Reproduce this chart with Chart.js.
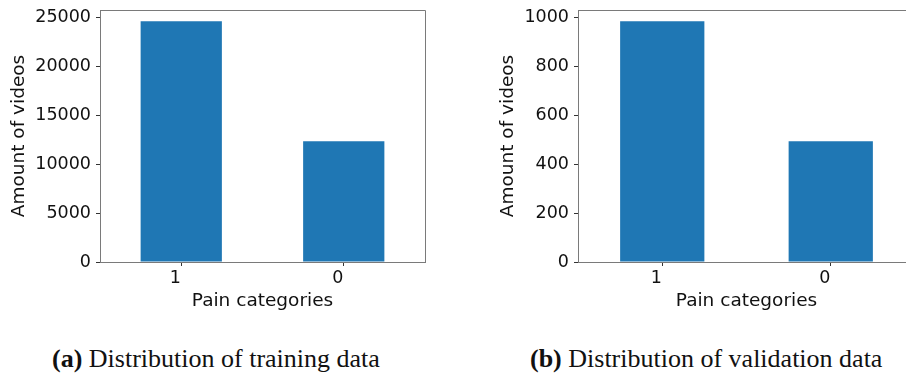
<!DOCTYPE html>
<html>
<head>
<meta charset="utf-8">
<script src="https://cdn.jsdelivr.net/npm/chart.js@4"></script>
<style>
  html, body { margin: 0; padding: 0; background: #fff; overflow: hidden; width: 906px; height: 376px; }
  canvas { position: absolute; top: 0; }
  .cap {
    position: absolute; top: 346px;
    font-family: "Liberation Serif", "Times New Roman", serif;
    font-size: 26px; line-height: 26px; color: #111; white-space: nowrap;
  }
</style>
</head>
<body>
<canvas id="train" width="440" height="320" style="left:0;width:440px;height:320px"></canvas>
<canvas id="valid" width="452" height="320" style="left:478px;width:452px;height:320px"></canvas>
<div class="cap" style="left:52px"><b>(a)</b> Distribution of training data</div>
<div class="cap" style="left:530px"><b>(b)</b> Distribution of validation data</div>
<script>
// Pain category labels and video counts per split
const categories = ['1', '0'];
const trainingCounts = [24620, 12360];
const validationCounts = [985, 494];

// Y tick values and axis upper limits
const trainingTicks = [0, 5000, 10000, 15000, 20000, 25000];
const validationTicks = [0, 200, 400, 600, 800, 1000];
const trainingMax = 25780;
const validationMax = 1031;

const BAR_BLUE = '#1f77b4';
const SPINE = '#7a7a7a';
const TEXT = '#111';

// Draws the top and right spines so the plot area is fully boxed
const frame = {
  id: 'frame',
  afterDatasetsDraw(chart) {
    const { ctx, chartArea: a } = chart;
    ctx.save();
    ctx.strokeStyle = SPINE;
    ctx.lineWidth = 1;
    ctx.beginPath();
    ctx.moveTo(Math.round(a.left) + 0.5, Math.round(a.top) + 0.5);
    ctx.lineTo(Math.round(a.right) + 0.5, Math.round(a.top) + 0.5);
    ctx.lineTo(Math.round(a.right) + 0.5, Math.round(a.bottom) + 0.5);
    ctx.stroke();
    ctx.restore();
  }
};

function makeChart(id, counts, ticks, yMax, titleInset) {
  return new Chart(document.getElementById(id), {
    type: 'bar',
    data: {
      labels: categories,
      datasets: [{
        data: counts,
        backgroundColor: BAR_BLUE,
        borderWidth: 0,
        barPercentage: 0.5,
        categoryPercentage: 1.0
      }]
    },
    options: {
      responsive: false,
      animation: false,
      events: [],
      layout: { padding: { left: 0, top: 10, right: 15, bottom: 0 } },
      plugins: { legend: { display: false }, tooltip: { enabled: false } },
      scales: {
        x: {
          grid: { display: true, drawOnChartArea: false, drawTicks: true, tickLength: 4, color: '#333', offset: false },
          border: { display: true, color: SPINE, width: 1 },
          ticks: { color: TEXT, font: { family: 'DejaVu Sans', size: 17.5 }, padding: 2, labelOffset: -6, maxRotation: 0 },
          title: { display: true, text: 'Pain categories', color: TEXT,
                   font: { family: 'DejaVu Sans', size: 18.5 }, padding: { top: 0, bottom: 8 } },
          afterFit(s) { s.height = 58; s.paddingLeft = 0; s.paddingRight = 0; }
        },
        y: {
          min: 0,
          max: yMax,
          afterBuildTicks(s) { s.ticks = ticks.map(v => ({ value: v })); },
          grid: { display: true, drawOnChartArea: false, drawTicks: true, tickLength: 4, color: '#333' },
          border: { display: true, color: SPINE, width: 1 },
          ticks: { color: TEXT, font: { family: 'DejaVu Sans', size: 17.5 }, padding: 5,
                   callback: v => String(v) },
          title: { display: true, text: 'Amount of videos', color: TEXT,
                   font: { family: 'DejaVu Sans', size: 18.5 }, padding: { top: titleInset, bottom: 0 } },
          afterFit(s) { s.width = 100; s.paddingTop = 0; s.paddingBottom = 0; }
        }
      }
    },
    plugins: [frame]
  });
}

makeChart('train', trainingCounts, trainingTicks, trainingMax, 8);
makeChart('valid', validationCounts, validationTicks, validationMax, 19);
</script>
</body>
</html>
